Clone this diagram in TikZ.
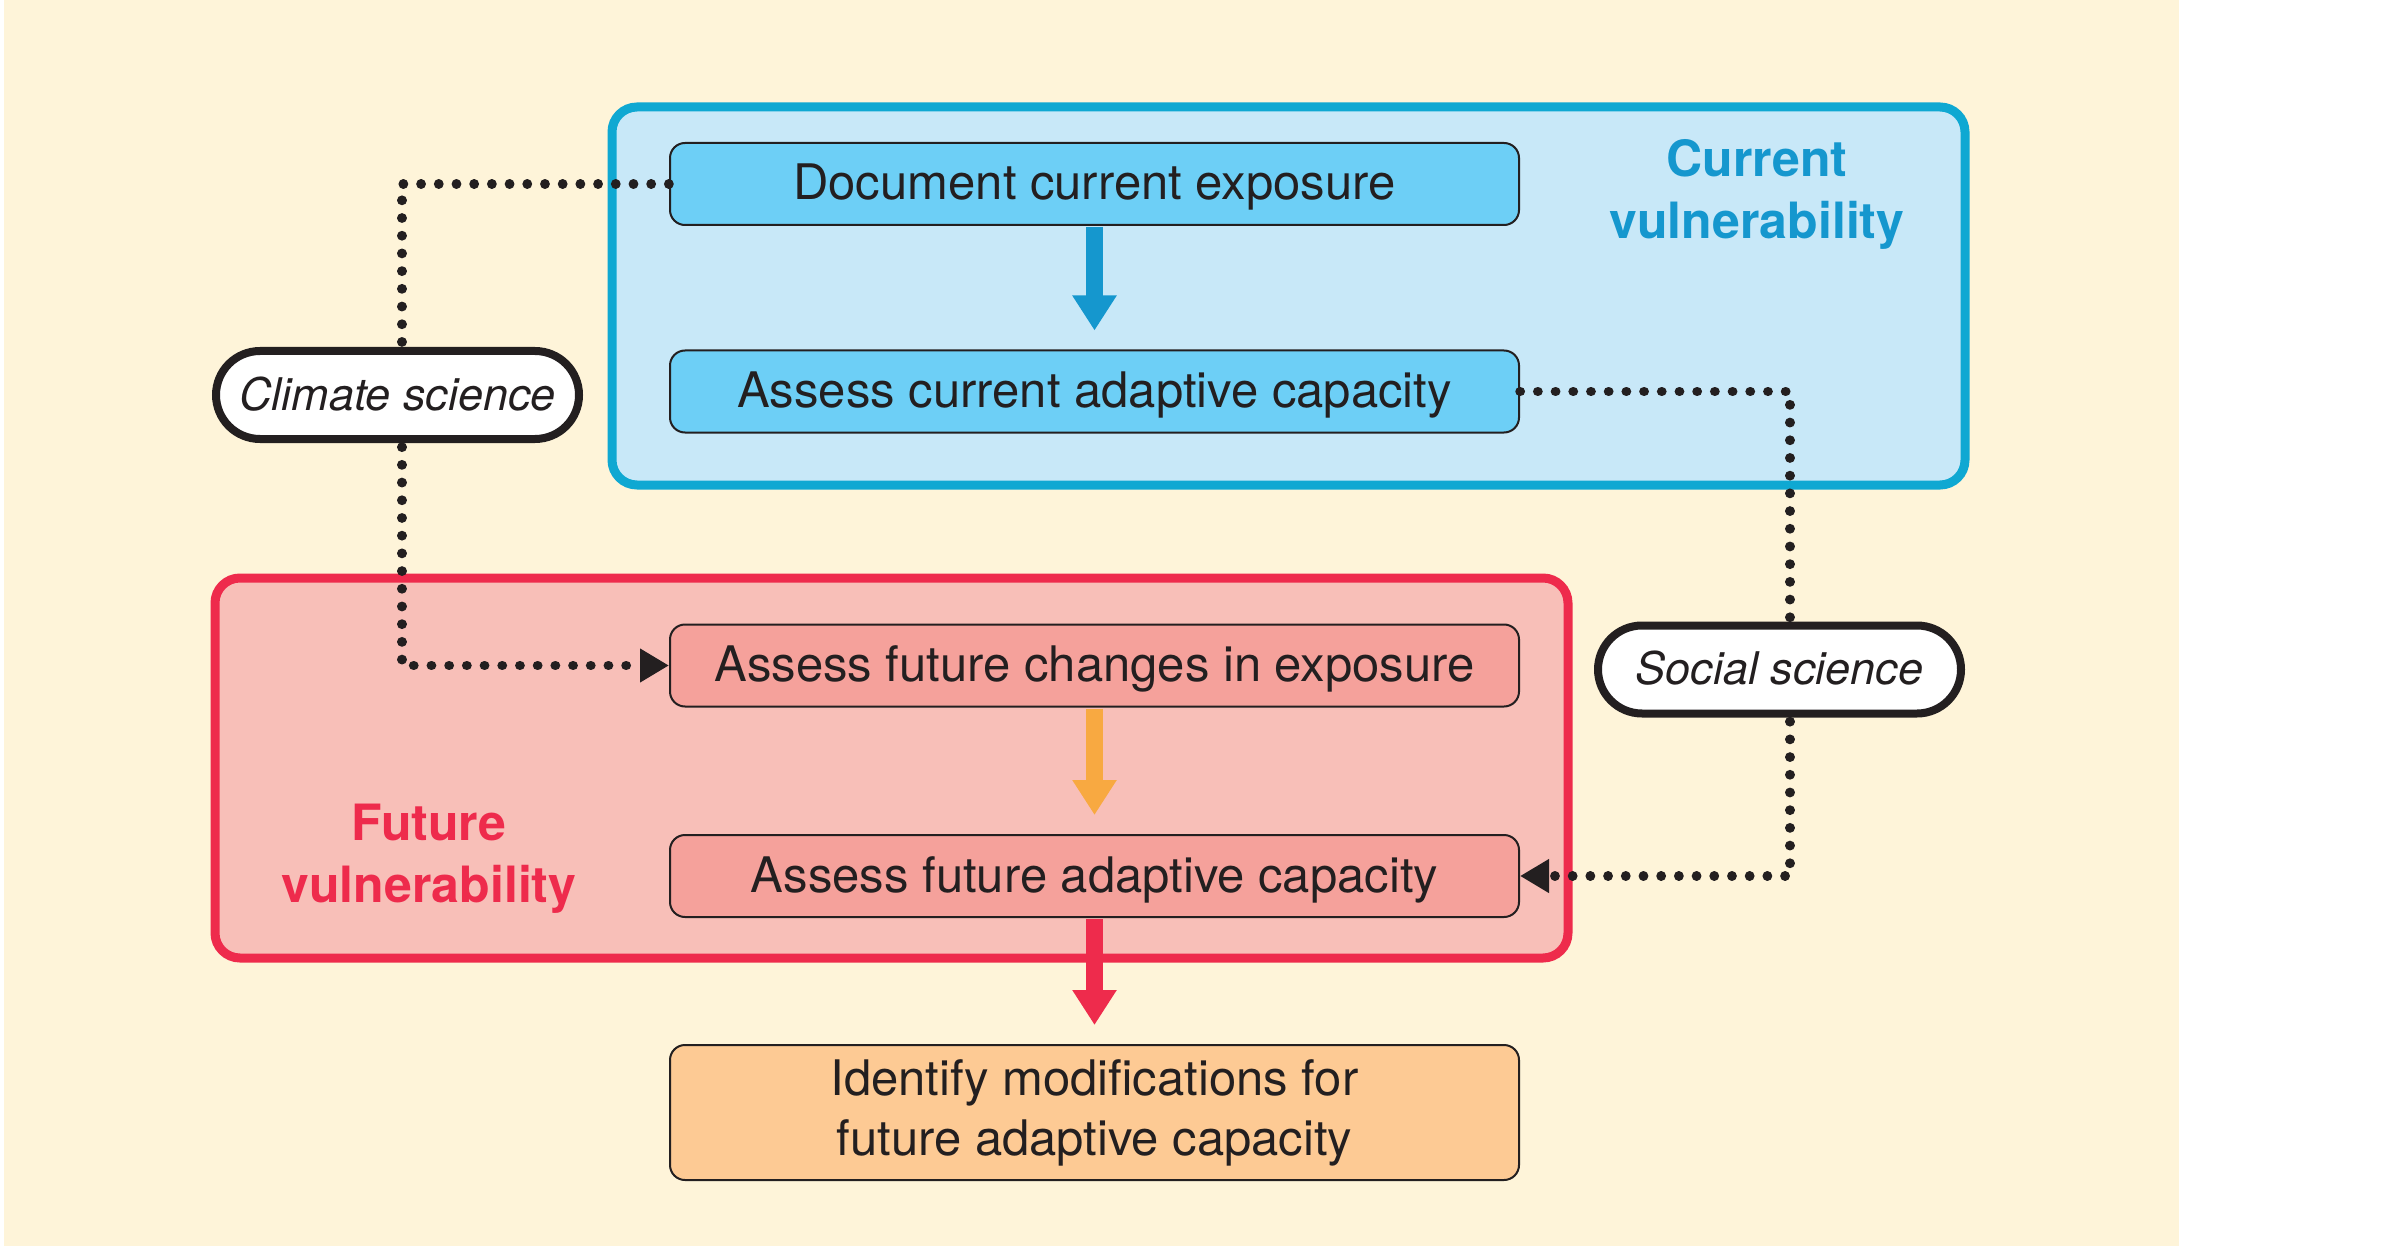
\documentclass[tikz,border=0pt]{standalone}
\usepackage{fontspec}
\setmainfont{TeX Gyre Heros}
\usetikzlibrary{arrows.meta}
\definecolor{cream}{HTML}{FEF4D9}
\definecolor{ink}{HTML}{231F20}
\definecolor{cyanline}{HTML}{0FA8D2}
\definecolor{cyanfill}{HTML}{C8E8F8}
\definecolor{cyannode}{HTML}{6DCFF6}
\definecolor{bluearrow}{HTML}{1597CE}
\definecolor{redline}{HTML}{EE2B4C}
\definecolor{redfill}{HTML}{F8BFB8}
\definecolor{rednode}{HTML}{F5A19B}
\definecolor{orangearrow}{HTML}{F8A941}
\definecolor{peach}{HTML}{FDCA94}
\newcommand\mybody{\fontsize{49}{60}\selectfont}
\newcommand\mytitle{\fontsize{50}{62}\selectfont\bfseries}
\newcommand\mypill{\fontsize{45}{54}\selectfont\itshape}
\tikzset{
  frame/.style={line width=9pt, rounded corners=25pt, inner sep=0pt, minimum width=1353pt},
  basebox/.style={draw=ink, line width=2pt, rounded corners=15pt, minimum width=849pt,
    minimum height=82pt, inner sep=0pt, font=\mybody, text=ink},
  stepbox/.style={basebox, text height=40pt, text depth=8pt},
  pill/.style={draw=ink, fill=white, line width=8pt, rounded corners=44pt, minimum width=363pt,
    minimum height=88pt, inner sep=0pt, font=\mypill, text=ink, text height=37pt, text depth=7pt},
  title/.style={font=\mytitle, align=center, inner sep=0pt},
  bigarrow/.style={line width=17pt, -{Triangle[length=35pt,width=42pt]}, shorten >=19pt, shorten <=1pt},
  dotline/.style={draw=ink, line width=9.5pt, line cap=round, dash pattern=on 0.3pt off 17.4pt},
  dotarrow/.style={dotline, -{Triangle[length=29pt 0 0,width=32pt 0 0]}}
}
\begin{document}
\begin{tikzpicture}[x=1pt,y=-1pt]
\useasboundingbox (0,0) rectangle (2395,1246);
\fill[white] (0,0) rectangle (2395,1246);
\fill[cream] (4,0) rectangle (2179,1246);

% frames
\node[frame, draw=cyanline, fill=cyanfill, minimum height=378pt] (curframe) at (1288.5,296) {};
\node[frame, draw=redline, fill=redfill, minimum height=380pt] (futframe) at (891.5,768) {};

% titles
\node[title, text=bluearrow] (curtitle) at (1757,194) {Current\\vulnerability};
\node[title, text=redline] (futtitle) at (429,859) {Future\\vulnerability};

% steps
\node[stepbox, fill=cyannode] (doc) at (1094.5,184) {Document current exposure};
\node[stepbox, fill=cyannode] (cur) at (1094.5,391.5) {Assess current adaptive capacity};
\node[stepbox, fill=rednode] (fch) at (1094.5,665.5) {Assess future changes in exposure};
\node[stepbox, fill=rednode] (fad) at (1094.5,876) {Assess future adaptive capacity};
\node[basebox, fill=peach, minimum height=135pt, align=center] (idf) at (1094.5,1112.5)
  {Identify modifications for\\future adaptive capacity};

% science pills
\node[pill] (cli) at (397.5,395) {Climate science};
\node[pill] (soc) at (1779.5,669.5) {Social science};

\coordinate (cx) at (402,0);
\coordinate (sx) at (1790,0);

% thick arrows
\draw[bigarrow, draw=bluearrow] (doc.south) -- (cur.north);
\draw[bigarrow, draw=orangearrow] (fch.south) -- (fad.north);
\draw[bigarrow, draw=redline] (fad.south) -- (idf.north);

% dotted connectors
\draw[dotline, shorten >=4pt] (doc.west) -| (cli.north -| cx);
\draw[dotarrow, shorten <=4pt] (cli.south -| cx) |- (fch.west);
\draw[dotline, shorten >=4pt] (cur.east) -| (soc.north -| sx);
\draw[dotarrow, shorten <=4pt] (soc.south -| sx) |- (fad.east);
\end{tikzpicture}
\end{document}
